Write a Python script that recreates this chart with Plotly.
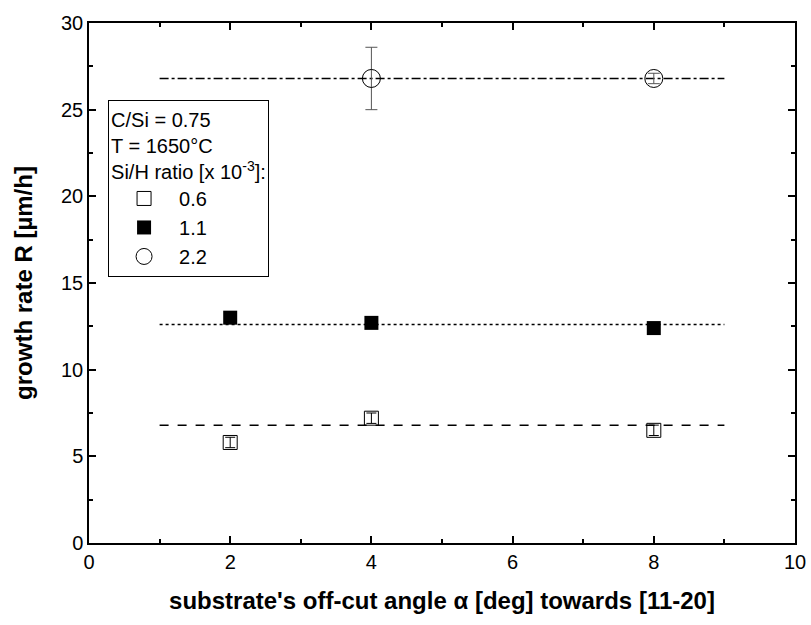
import plotly.graph_objects as go

angles_06 = [2, 4, 8]
rate_06 = [5.8, 7.2, 6.5]
err_06 = [0.3, 0.3, 0.3]

angles_11 = [2, 4, 8]
rate_11 = [13.0, 12.7, 12.4]

angles_22 = [4, 8]
rate_22 = [26.8, 26.8]
err_22 = [1.8, 0.3]

fit_x = [1, 9]
fit_06 = 6.8
fit_11 = 12.6
fit_22 = 26.8

FONT = "Liberation Sans, Arial"

fig = go.Figure()
fig.add_trace(go.Scatter(x=fit_x, y=[fit_06, fit_06], mode="lines",
                         line=dict(color="black", width=1.5, dash="dash"), showlegend=False))
fig.add_trace(go.Scatter(x=fit_x, y=[fit_11, fit_11], mode="lines",
                         line=dict(color="black", width=1.5, dash="dot"), showlegend=False))
fig.add_trace(go.Scatter(x=fit_x, y=[fit_22, fit_22], mode="lines",
                         line=dict(color="black", width=1.5, dash="dashdot"), showlegend=False))

fig.add_trace(go.Scatter(x=angles_06, y=rate_06, mode="markers", name="0.6",
                         marker=dict(symbol="square-open", size=14, color="black", line=dict(width=1)),
                         error_y=dict(type="data", array=err_06, color="black", thickness=1, width=5)))
fig.add_trace(go.Scatter(x=angles_11, y=rate_11, mode="markers", name="1.1",
                         marker=dict(symbol="square", size=14, color="black")))
fig.add_trace(go.Scatter(x=angles_22, y=rate_22, mode="markers", name="2.2",
                         marker=dict(symbol="circle-open", size=18, color="black", line=dict(width=1)),
                         error_y=dict(type="data", array=err_22, color="#555", thickness=1, width=6)))

axis_common = dict(showline=True, linecolor="black", linewidth=1.5, mirror="ticks",
                   ticks="inside", ticklen=7, tickwidth=1.5, tickcolor="black",
                   showgrid=False, zeroline=False, automargin=False,
                   tickfont=dict(family=FONT, size=20, color="black"))

fig.update_xaxes(range=[0, 10], dtick=2,
                 minor=dict(ticks="inside", ticklen=4, dtick=1, tickcolor="black"),
                 title=dict(text="<b>substrate's off-cut angle α [deg] towards [11-20]</b>",
                            font=dict(family=FONT, size=24, color="black"), standoff=20),
                 **axis_common)
fig.update_yaxes(range=[0, 30], dtick=5,
                 minor=dict(ticks="inside", ticklen=4, dtick=2.5, tickcolor="black"),
                 title=dict(text="<b>growth rate R [µm/h]</b>",
                            font=dict(family=FONT, size=24, color="black"), standoff=22),
                 **axis_common)

fig.update_layout(
    width=811, height=625,
    margin=dict(l=89, r=16, t=23, b=82),
    plot_bgcolor="white", paper_bgcolor="white",
    font=dict(family=FONT, size=20, color="black"),
    legend=dict(x=0.027, y=0.852, xanchor="left", yanchor="top",
                bordercolor="black", borderwidth=1, bgcolor="white",
                title=dict(text="C/Si = 0.75<br>T = 1650°C<br>Si/H ratio [x 10<sup>-3</sup>]:",
                           font=dict(family=FONT, size=20)),
                font=dict(family=FONT, size=20), itemwidth=60, tracegroupgap=0),
)

fig.write_html("out.html")
